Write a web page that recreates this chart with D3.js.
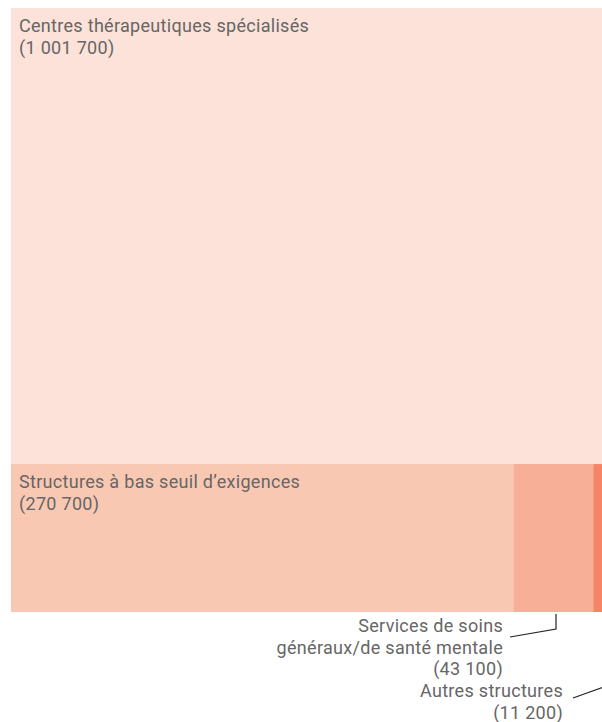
<!DOCTYPE html>
<html><head><meta charset="utf-8">
<script src="https://cdn.jsdelivr.net/npm/d3@7"></script>
<style>html,body{margin:0;padding:0;background:#fff;overflow:hidden}</style>
</head><body>
<script>
const categories = ["Centres thérapeutiques spécialisés", "Structures à bas seuil d’exigences", "Services de soins généraux/de santé mentale", "Autres structures"];
const values = [1001700, 270700, 43100, 11200];
const valueLabels = ["(1 001 700)", "(270 700)", "(43 100)", "(11 200)"];
const colors = ["#fce2d8", "#f9c8b3", "#f7b097", "#f48566"];

const W = 602, H = 722;
const svg = d3.select("body").append("svg").attr("width", W).attr("height", H)
  .style("font-family", "Roboto, sans-serif");

const x0 = 11, y0 = 8, tw = 603, th = 604;
const total = d3.sum(values);
const yScale = d3.scaleLinear().domain([0, total]).range([y0, y0 + th]);
const topH = yScale(values[0]);
const rest = d3.sum(values.slice(1));
const xScale = d3.scaleLinear().domain([0, rest]).range([x0, x0 + tw]);
let acc = 0;
const rects = values.map((v, i) => {
  if (i === 0) return {x: x0, y: y0, w: tw, h: topH - y0};
  const r = {x: xScale(acc), y: topH, w: xScale(acc + v) - xScale(acc), h: y0 + th - topH};
  acc += v; return r;
});

svg.selectAll("rect.cell").data(rects).join("rect").attr("class", "cell")
  .attr("x", d => d.x).attr("y", d => d.y).attr("width", d => d.w).attr("height", d => d.h)
  .attr("fill", (d, i) => colors[i]);

const fs = 18;
const ls = 0.3;
const lh = 21.5;
const tcol = "#666";
[0, 1].forEach(i => {
  const r = rects[i];
  const t = svg.append("text").attr("fill", tcol).attr("font-size", fs).attr("letter-spacing", ls);
  t.append("tspan").attr("x", r.x + 8).attr("y", r.y + 24).text(categories[i]);
  t.append("tspan").attr("x", r.x + 8).attr("y", r.y + 24 + lh).text(valueLabels[i]);
});

// external labels
const lab1 = svg.append("text").attr("fill", tcol).attr("font-size", fs).attr("letter-spacing", ls).attr("text-anchor", "end");
lab1.append("tspan").attr("x", 503).attr("y", 632).text("Services de soins");
lab1.append("tspan").attr("x", 503).attr("y", 632 + lh).text("généraux/de santé mentale");
lab1.append("tspan").attr("x", 503).attr("y", 632 + 2 * lh).text(valueLabels[2]);
const lab2 = svg.append("text").attr("fill", tcol).attr("font-size", fs).attr("letter-spacing", ls).attr("text-anchor", "end");
lab2.append("tspan").attr("x", 563).attr("y", 697).text(categories[3]);
lab2.append("tspan").attr("x", 563).attr("y", 697 + lh).text(valueLabels[3]);

const r2 = rects[2], r3 = rects[3];
const cx2 = 556;
svg.append("path").attr("fill", "none").attr("stroke", "#222").attr("stroke-width", 1.2)
  .attr("d", `M510,637 L${cx2},629 L${cx2},${r2.y + r2.h + 2}`);
svg.append("path").attr("fill", "none").attr("stroke", "#222").attr("stroke-width", 1.2)
  .attr("d", `M573,698 L${r3.x + r3.w / 2 + 3},686`);
</script>
</body></html>
